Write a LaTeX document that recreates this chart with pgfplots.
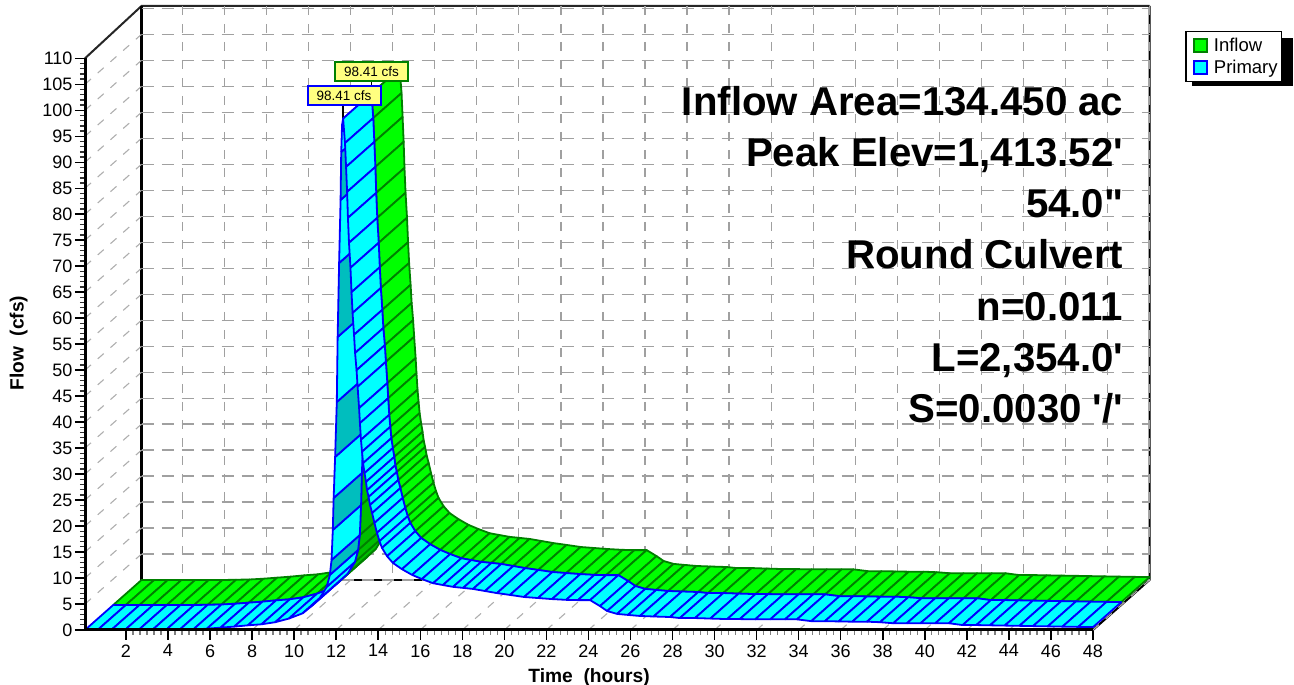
\documentclass[border=0pt]{standalone}
\usepackage{fontspec}
\setmainfont{Liberation Sans}
\newfontfamily\lib{Liberation Sans}
\usepackage{pgfplots}
\usepackage{pgfplotstable}
\pgfplotsset{compat=1.18}
\definecolor{grn}{HTML}{00FF00}
\definecolor{dgrn}{HTML}{00BE00}
\definecolor{egrn}{HTML}{008000}
\definecolor{cya}{HTML}{00FFFF}
\definecolor{teal2}{HTML}{00BEBE}
\definecolor{eblu}{HTML}{0000FF}
\definecolor{yel}{HTML}{FFFF80}
\definecolor{gridc}{HTML}{A0A0A0}
\pgfplotstableread{
t q s g
0.05 0 0 0
0.65 0 0 0
1.30 0 0 0
1.95 0 0 0
2.60 0 0 0
3.25 0 0 0
3.90 0 0 0
4.55 0.05 0 0
5.20 0.10 0 0
5.85 0.25 0 0
6.50 0.45 0 0
7.15 0.65 0 0
7.80 0.90 0 0
8.45 1.10 0 0
9.10 1.50 0 0
9.75 2.20 0 0
10.40 3.20 0 0
10.80 4.50 0 1
11.20 6.00 0 1
11.55 8.30 0 1
11.70 10.60 0 1
11.78 13.47 1 1
11.84 19.24 0 1
11.88 25.40 1 1
11.95 33.29 0 0
12.03 43.87 1 0
12.07 56.38 0 0
12.14 70.62 1 0
12.21 82.74 0 0
12.24 91.98 1 0
12.28 97.17 0 0
12.33 98.41 0 0
12.42 93.7 0 0
12.47 89.1 0 0
12.52 84.3 0 0
12.56 79.3 0 0
12.61 74.5 0 0
12.68 69.7 0 0
12.73 65.0 0 0
12.78 61.0 0 0
12.85 56.8 0 0
12.90 53.3 0 0
12.97 50.0 0 0
13.02 46.8 0 0
13.09 42.7 0 0
13.13 39.8 0 0
13.18 36.6 0 0
13.23 34.3 0 0
13.28 32.1 0 0
13.35 30.2 0 0
13.42 28.5 0 0
13.47 26.9 0 0
13.54 25.6 0 0
13.61 24.05 0 0
13.71 22.5 0 0
13.82 20.6 0 0
13.94 18.7 0 0
14.06 17.1 0 0
14.18 15.8 0 0
14.42 14.2 0 0
14.70 12.9 0 0
15.13 11.7 0 0
15.61 10.6 0 0
16.08 9.8 0 0
16.61 9.0 0 0
17.08 8.65 0 0
17.56 8.3 0 0
18.04 8.1 0 0
18.51 7.9 0 0
19.08 7.5 0 0
19.65 7.1 0 0
20.27 6.75 0 0
20.94 6.35 0 0
21.60 6.15 0 0
22.27 5.95 0 0
22.94 5.80 0 0
23.50 5.75 0 0
24.08 5.75 0 0
24.55 4.60 0 0
24.89 3.65 0 0
25.36 3.10 0 0
25.88 2.90 0 0
26.45 2.70 0 0
27.10 2.60 0 0
27.88 2.50 0 0
28.35 2.30 0 0
29.07 2.30 0 0
29.80 2.20 0 0
30.60 2.10 0 0
31.20 2.10 0 0
31.93 2.05 0 0
32.65 2.05 0 0
33.35 2.05 0 0
33.92 2.05 0 0
34.60 1.70 0 0
35.25 1.70 0 0
35.90 1.65 0 0
36.55 1.60 0 0
37.25 1.60 0 0
37.87 1.50 0 0
38.50 1.30 0 0
39.15 1.30 0 0
39.80 1.30 0 0
40.50 1.30 0 0
41.15 1.30 0 0
41.80 0.95 0 0
42.45 0.95 0 0
43.10 0.90 0 0
43.80 0.85 0 0
44.50 0.80 0 0
45.15 0.75 0 0
45.85 0.70 0 0
46.55 0.65 0 0
47.30 0.60 0 0
48.00 0.55 0 0
}\hyd
% #1 offset in hours, #2 offset in cfs, #3 fill, #4 dark fill, #5 edge, #6 flag column
\newcommand\ribbon[6]{%
  \pgfplotstablegetrowsof{\hyd}\pgfmathtruncatemacro\nseg{\pgfplotsretval-2}%
  \foreach \i in {0,...,\nseg}{%
    \pgfmathtruncatemacro\j{\i+1}%
    \pgfplotstablegetelem{\i}{t}\of\hyd\let\ta\pgfplotsretval
    \pgfplotstablegetelem{\i}{q}\of\hyd\let\qa\pgfplotsretval
    \pgfplotstablegetelem{\j}{t}\of\hyd\let\tb\pgfplotsretval
    \pgfplotstablegetelem{\j}{q}\of\hyd\let\qb\pgfplotsretval
    \pgfplotstablegetelem{\j}{#6}\of\hyd\let\fl\pgfplotsretval
    \pgfmathsetmacro\xa{\ta+#1}\pgfmathsetmacro\ya{\qa+#2}%
    \pgfmathsetmacro\xb{\tb+#1}\pgfmathsetmacro\yb{\qb+#2}%
    \pgfmathsetmacro\xc{\tb+#1+1.345}\pgfmathsetmacro\yc{\qb+#2+4.81}%
    \pgfmathsetmacro\xd{\ta+#1+1.345}\pgfmathsetmacro\yd{\qa+#2+4.81}%
    \ifnum\fl=1 \def\col{#4}\else\def\col{#3}\fi
    \edef\tmp{\noexpand\addplot[fill=\col,draw=#5,line width=1.8pt,line join=round,forget plot]
      coordinates {(\xa,\ya)(\xb,\yb)(\xc,\yc)(\xd,\yd)(\xa,\ya)};}\tmp
  }%
}
\tikzset{
  gh/.style={draw=gridc,line width=1.2pt,dash pattern=on 12pt off 8pt},
  gv/.style={draw=gridc,line width=1.2pt,dash pattern=on 9pt off 9pt},
  gd/.style={draw=gridc!85,line width=1.1pt,dash pattern=on 8pt off 9pt},
}
\begin{document}
\begin{tikzpicture}
\useasboundingbox (0,0) rectangle (1294pt,685pt);
\fill[black] (1192pt,599pt) rectangle (1293pt,647pt);
\begin{axis}[
  at={(85pt,55pt)},anchor=south west,
  scale only axis,width=1064.5pt,height=624pt,
  xmin=0.052,xmax=50.69,ymin=0,ymax=120.07,
  clip=false,
  axis line style={draw=none},
  xtick={2,4,...,48},ytick={0,5,...,110},
  minor x tick num=5,minor y tick num=4,
  tick align=outside,xtick pos=bottom,ytick pos=left,
  major tick length=10pt,minor tick length=5pt,
  tick style={black,line width=1.5pt},
  minor x tick style={gray,line width=1.3pt},
  minor y tick style={black!80,line width=1.3pt},
  /pgf/number format/assume math mode=true,
  tick label style={font=\fontsize{18}{20}\selectfont},
  xticklabel style={yshift=-1pt},
  yticklabel style={xshift=1pt},
  xlabel={Time\ \ (hours)},
  ylabel={Flow\ \ (cfs)},
  every axis x label/.style={at={(axis cs:24.03,-9.1)},anchor=center,font=\bfseries\fontsize{19.2}{20}\selectfont},
  every axis y label/.style={at={(axis cs:-3.1,55.2)},anchor=center,rotate=90,font=\bfseries\fontsize{19.2}{20}\selectfont},
  legend image code/.code={\path[draw=none,fill=none] (0pt,-7pt) rectangle (24pt,7pt);\draw[#1,line width=1.5pt] (5.5pt,-6.5pt) rectangle (18.5pt,6.5pt);},
  legend cell align=left,
  legend style={at={(axis cs:52.39,115.26)},anchor=north west,draw=black,line width=1.3pt,
     fill=white,font=\fontsize{18.5}{20}\selectfont,inner xsep=2.5pt,inner ysep=5pt,row sep=4pt,
     nodes={inner sep=1.5pt}},
]
% walls
\addplot[black!85,line width=2pt,forget plot] coordinates {(0.052,110)(2.74,120.07)(50.69,120.07)};
\addplot[black,line width=2.5pt,forget plot] coordinates {(2.74,120.07)(2.74,9.62)(50.69,9.62)};
\addplot[black,line width=2pt,forget plot] coordinates {(50.69,120.07)(50.69,9.62)(48,0)};
% back wall grid
\pgfplotsinvokeforeach{0,5,...,110}{
  \pgfmathsetmacro\yy{#1+9.62}
  \edef\tmp{\noexpand\draw[gh] (axis cs:2.74,\yy) -- (axis cs:50.69,\yy);}\tmp
}
\pgfplotsinvokeforeach{2,4,...,48}{
  \pgfmathsetmacro\xx{#1+2.69}
  \edef\tmp{\noexpand\draw[gv] (axis cs:\xx,120.07) -- (axis cs:\xx,9.62);}\tmp
  \edef\tmp{\noexpand\draw[gd] (axis cs:#1,0) -- (axis cs:\xx,9.62);}\tmp
}
\pgfplotsinvokeforeach{5,10,...,105}{
  \pgfmathsetmacro\yy{#1+9.62}
  \edef\tmp{\noexpand\draw[gd] (axis cs:0.052,#1) -- (axis cs:2.74,\yy);}\tmp
}
% peak leaders
\addplot[black,line width=1.5pt,forget plot] coordinates {(12.33,98.41)(12.33,102)};
\addplot[black,line width=1.5pt,forget plot] coordinates {(13.68,103.22)(13.68,107)};
% series
\ribbon{1.345}{4.81}{grn}{dgrn}{egrn}{g}
\ribbon{0}{0}{cya}{teal2}{eblu}{s}
% front axes
\addplot[black,line width=3pt,forget plot] coordinates {(0.052,110)(0.052,0)(48,0)};
\addlegendimage{fill=grn,draw=egrn}
\addlegendentry{Inflow}
\addlegendimage{fill=cya,draw=eblu}
\addlegendentry{Primary}
\end{axis}
\node[anchor=center,draw=eblu,line width=2pt,fill=yel,minimum width=73pt,minimum height=19pt,inner sep=0pt,font=\fontsize{13.5}{14}\selectfont] at (344pt,589pt) {98.41 cfs};
\node[anchor=center,draw=egrn,line width=2pt,fill=yel,minimum width=73pt,minimum height=19pt,inner sep=0pt,font=\fontsize{13.5}{14}\selectfont] at (371.5pt,613pt) {98.41 cfs};
\node[anchor=north east,align=right,inner sep=0pt,font=\lib\bfseries\fontsize{40.2}{51.2}\selectfont] at (1123.5pt,599pt)
 {Inflow Area=134.450 ac\\Peak Elev=1,413.52'\\54.0"\\Round Culvert\\n=0.011\\L=2,354.0'\\S=0.0030 '/'};
\end{tikzpicture}
\end{document}
